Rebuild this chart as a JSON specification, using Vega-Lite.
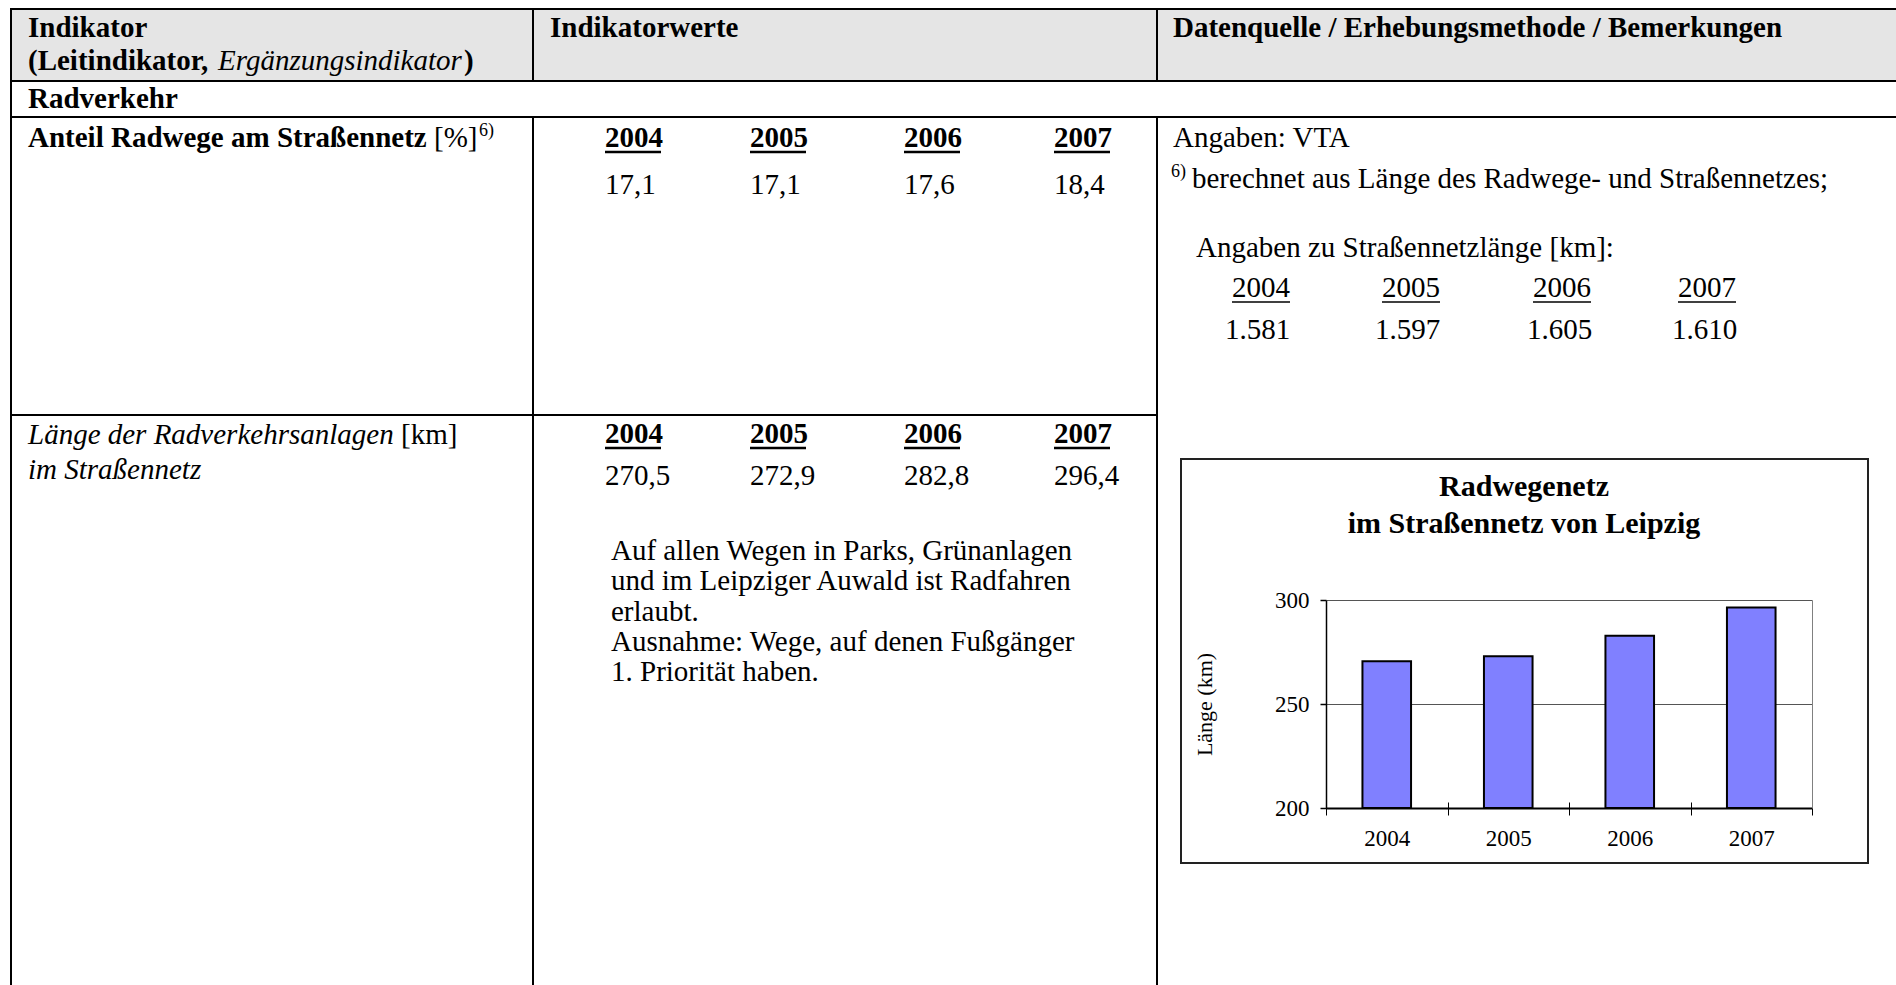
{
  "$schema": "https://vega.github.io/schema/vega-lite/v6.json",
  "width": 1896,
  "height": 985,
  "padding": 0,
  "autosize": {"type": "none"},
  "background": "white",
  "config": {"view": {"stroke": null}, "font": "Liberation Serif", "text": {"font": "Liberation Serif", "color": "black"}},
  "datasets": {
    "headerFill": [{"x": 11, "x2": 1896, "y": 9, "y2": 81}],
    "tableLines": [
      {"x": 10, "y": 9, "x2": 1896, "y2": 9},
      {"x": 10, "y": 81, "x2": 1896, "y2": 81},
      {"x": 10, "y": 117, "x2": 1896, "y2": 117},
      {"x": 10, "y": 415, "x2": 1157, "y2": 415},
      {"x": 11, "y": 8, "x2": 11, "y2": 985},
      {"x": 533, "y": 8, "x2": 533, "y2": 81},
      {"x": 533, "y": 117, "x2": 533, "y2": 985},
      {"x": 1157, "y": 8, "x2": 1157, "y2": 81},
      {"x": 1157, "y": 117, "x2": 1157, "y2": 985}
    ],
    "boldUnderlines": [
      {"x": 605, "x2": 661, "y": 152, "y2": 152},
      {"x": 750, "x2": 806, "y": 152, "y2": 152},
      {"x": 904, "x2": 960, "y": 152, "y2": 152},
      {"x": 1054, "x2": 1110, "y": 152, "y2": 152},
      {"x": 605, "x2": 661, "y": 448, "y2": 448},
      {"x": 750, "x2": 806, "y": 448, "y2": 448},
      {"x": 904, "x2": 960, "y": 448, "y2": 448},
      {"x": 1054, "x2": 1110, "y": 448, "y2": 448}
    ],
    "regularUnderlines": [
      {"x": 1232, "x2": 1290, "y": 302, "y2": 302},
      {"x": 1382, "x2": 1440, "y": 302, "y2": 302},
      {"x": 1533, "x2": 1591, "y": 302, "y2": 302},
      {"x": 1678, "x2": 1736, "y": 302, "y2": 302}
    ],
    "boldText": [
      {"x": 28, "y": 37, "text": "Indikator"},
      {"x": 28, "y": 70, "text": "(Leitindikator,"},
      {"x": 464, "y": 70, "text": ")"},
      {"x": 550, "y": 37, "text": "Indikatorwerte"},
      {"x": 1173, "y": 37, "text": "Datenquelle / Erhebungsmethode / Bemerkungen"},
      {"x": 28, "y": 108, "text": "Radverkehr"},
      {"x": 28, "y": 147, "text": "Anteil Radwege am Straßennetz"},
      {"x": 605, "y": 147, "text": "2004"},
      {"x": 750, "y": 147, "text": "2005"},
      {"x": 904, "y": 147, "text": "2006"},
      {"x": 1054, "y": 147, "text": "2007"},
      {"x": 605, "y": 443, "text": "2004"},
      {"x": 750, "y": 443, "text": "2005"},
      {"x": 904, "y": 443, "text": "2006"},
      {"x": 1054, "y": 443, "text": "2007"}
    ],
    "italicText": [
      {"x": 218, "y": 70, "text": "Ergänzungsindikator"},
      {"x": 28, "y": 444, "text": "Länge der Radverkehrsanlagen"},
      {"x": 28, "y": 479, "text": "im Straßennetz"}
    ],
    "regularText": [
      {"x": 434, "y": 147, "text": "[%]"},
      {"x": 605, "y": 194, "text": "17,1"},
      {"x": 750, "y": 194, "text": "17,1"},
      {"x": 904, "y": 194, "text": "17,6"},
      {"x": 1054, "y": 194, "text": "18,4"},
      {"x": 401, "y": 444, "text": "[km]"},
      {"x": 605, "y": 485, "text": "270,5"},
      {"x": 750, "y": 485, "text": "272,9"},
      {"x": 904, "y": 485, "text": "282,8"},
      {"x": 1054, "y": 485, "text": "296,4"},
      {"x": 611, "y": 560, "text": "Auf allen Wegen in Parks, Grünanlagen"},
      {"x": 611, "y": 590, "text": "und im Leipziger Auwald ist Radfahren"},
      {"x": 611, "y": 621, "text": "erlaubt."},
      {"x": 611, "y": 651, "text": "Ausnahme: Wege, auf denen Fußgänger"},
      {"x": 611, "y": 681, "text": "1. Priorität haben."},
      {"x": 1173, "y": 147, "text": "Angaben: VTA"},
      {"x": 1192, "y": 188, "text": "berechnet aus Länge des Radwege- und Straßennetzes;"},
      {"x": 1196, "y": 257, "text": "Angaben zu Straßennetzlänge [km]:"},
      {"x": 1232, "y": 297, "text": "2004"},
      {"x": 1382, "y": 297, "text": "2005"},
      {"x": 1533, "y": 297, "text": "2006"},
      {"x": 1678, "y": 297, "text": "2007"},
      {"x": 1225, "y": 339, "text": "1.581"},
      {"x": 1375, "y": 339, "text": "1.597"},
      {"x": 1527, "y": 339, "text": "1.605"},
      {"x": 1672, "y": 339, "text": "1.610"}
    ],
    "superText": [
      {"x": 479, "y": 136, "text": "6)"},
      {"x": 1171, "y": 177, "text": "6)"}
    ],
    "chartTitle": [
      {"x": 1524, "y": 496, "text": "Radwegenetz"},
      {"x": 1524, "y": 533, "text": "im Straßennetz von Leipzig"}
    ],
    "chartBox": [{"x": 1181, "x2": 1868, "y": 459, "y2": 863}],
    "radwege": [
      {"Jahr": "2004", "Laenge": 270.5},
      {"Jahr": "2005", "Laenge": 272.9},
      {"Jahr": "2006", "Laenge": 282.8},
      {"Jahr": "2007", "Laenge": 296.4}
    ]
  },
  "layer": [
    {
      "encoding": {
        "x": {"field": "x", "type": "quantitative", "scale": {"domain": [0, 1896], "range": [0, 1896], "zero": false, "nice": false}, "axis": null},
        "y": {"field": "y", "type": "quantitative", "scale": {"domain": [0, 985], "range": [0, 985], "zero": false, "nice": false}, "axis": null}
      },
      "layer": [
        {"data": {"name": "headerFill"}, "mark": {"type": "rect", "fill": "#e5e5e5"}, "encoding": {"x2": {"field": "x2"}, "y2": {"field": "y2"}}},
        {"data": {"name": "tableLines"}, "mark": {"type": "rule", "color": "black", "strokeWidth": 2}, "encoding": {"x2": {"field": "x2"}, "y2": {"field": "y2"}}},
        {"data": {"name": "boldUnderlines"}, "mark": {"type": "rule", "color": "black", "strokeWidth": 2.5}, "encoding": {"x2": {"field": "x2"}, "y2": {"field": "y2"}}},
        {"data": {"name": "regularUnderlines"}, "mark": {"type": "rule", "color": "black", "strokeWidth": 1.5}, "encoding": {"x2": {"field": "x2"}, "y2": {"field": "y2"}}},
        {"data": {"name": "chartBox"}, "mark": {"type": "rect", "fill": null, "stroke": "#222222", "strokeWidth": 2}, "encoding": {"x2": {"field": "x2"}, "y2": {"field": "y2"}}},
        {"data": {"name": "boldText"}, "mark": {"type": "text", "align": "left", "baseline": "alphabetic", "fontSize": 29, "fontWeight": "bold", "color": "black"}, "encoding": {"text": {"field": "text"}}},
        {"data": {"name": "italicText"}, "mark": {"type": "text", "align": "left", "baseline": "alphabetic", "fontSize": 29, "fontStyle": "italic", "color": "black"}, "encoding": {"text": {"field": "text"}}},
        {"data": {"name": "regularText"}, "mark": {"type": "text", "align": "left", "baseline": "alphabetic", "fontSize": 29, "color": "black"}, "encoding": {"text": {"field": "text"}}},
        {"data": {"name": "superText"}, "mark": {"type": "text", "align": "left", "baseline": "alphabetic", "fontSize": 18, "color": "black"}, "encoding": {"text": {"field": "text"}}},
        {"data": {"name": "chartTitle"}, "mark": {"type": "text", "align": "center", "baseline": "alphabetic", "fontSize": 30, "fontWeight": "bold", "color": "black"}, "encoding": {"text": {"field": "text"}}}
      ]
    },
    {
      "data": {"name": "radwege"},
      "layer": [
        {
          "mark": {"type": "bar", "fill": "#8080ff", "stroke": "black", "strokeWidth": 2, "width": {"band": 0.4}},
          "encoding": {
            "x": {"field": "Jahr", "type": "ordinal", "scale": {"type": "band", "range": [1326, 1812], "paddingInner": 0, "paddingOuter": 0},
              "axis": {"orient": "bottom", "offset": -177, "title": null, "labelAngle": 0, "labelFont": "Liberation Serif", "labelFontSize": 23, "labelColor": "black", "labelPadding": 12, "tickBand": "extent", "tickSize": 7, "tickColor": "black", "tickWidth": 1, "domainColor": "black", "domainWidth": 2, "grid": false}},
            "y": {"field": "Laenge", "type": "quantitative", "scale": {"domain": [200, 300], "range": [808, 600], "zero": false, "nice": false},
              "axis": {"orient": "left", "offset": -1326, "values": [200, 250, 300], "title": "Länge (km)", "titleFont": "Liberation Serif", "titleFontSize": 22, "titleFontWeight": "normal", "titleColor": "black", "titlePadding": 58, "labelFont": "Liberation Serif", "labelFontSize": 23, "labelColor": "black", "labelPadding": 11, "tickSize": 6, "tickColor": "black", "tickWidth": 1.5, "domainColor": "black", "domainWidth": 1.5, "grid": true, "gridColor": "#555555", "gridWidth": 1}},
            "y2": {"datum": 200}
          }
        },
        {
          "mark": {"type": "point", "opacity": 0},
          "encoding": {
            "x": {"field": "Jahr", "type": "ordinal",
              "axis": {"orient": "bottom", "offset": -177, "title": null, "domain": false, "labels": false, "tickBand": "extent", "tickSize": -6, "tickColor": "black", "tickWidth": 1, "grid": false}},
            "y": {"field": "Laenge", "type": "quantitative",
              "axis": {"orient": "right", "offset": -84, "title": null, "labels": false, "ticks": false, "domain": true, "domainColor": "#808080", "domainWidth": 1, "grid": false}}
          }
        }
      ],
      "resolve": {"axis": {"x": "independent", "y": "independent"}}
    }
  ],
  "resolve": {"scale": {"x": "independent", "y": "independent"}}
}
